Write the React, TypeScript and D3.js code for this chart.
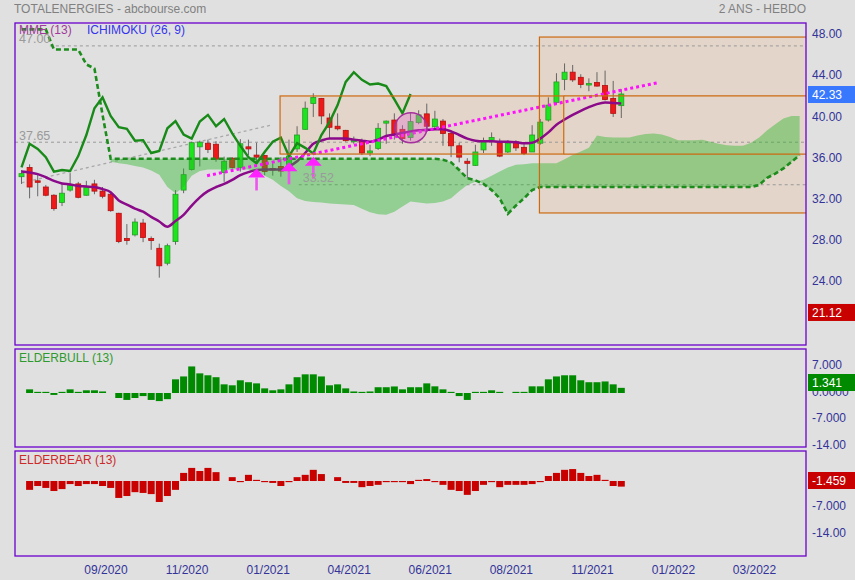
import React from "react";
import * as d3 from "d3";

// ---------- DATA ----------
const opens = [34.3,35.2,33.9,33.3,32.5,31.8,33.0,33.6,32.5,33.6,32.9,32.6,30.75,28.3,28.65,29.8,28.3,27.35,25.9,28.0,33.0,35.0,37.2,37.55,37.45,34.7,36.1,35.2,37.2,36.4,36.35,35.1,35.3,35.3,37.0,38.9,41.4,41.9,40.0,39.2,38.8,37.7,37.8,36.6,37.05,39.5,39.8,38.9,38.1,39.55,40.4,39.15,39.7,38.5,37.3,35.8,35.4,36.9,37.85,37.6,36.7,37.7,37.15,36.7,37.55,39.8,41.5,43.75,44.45,43.95,43.2,43.45,43.15,41.9,41.2];
const highs = [34.95,35.5,34.6,33.5,32.6,33.7,34.65,33.8,33.9,34.0,33.3,32.85,30.8,29.7,30.25,30.2,28.5,27.8,27.8,33.0,35.1,37.7,37.8,37.9,37.75,36.25,36.2,37.95,37.9,37.6,36.4,35.6,36.2,37.9,39.2,41.6,42.4,41.95,40.45,40.45,38.85,38.2,38.0,37.4,39.5,39.75,40.45,39.3,40.5,40.75,41.4,40.7,39.9,38.8,37.6,36.1,37.4,38.1,38.6,38.0,37.85,37.85,37.5,39.3,39.9,42.0,44.35,45.3,45.15,44.25,43.85,44.45,44.6,43.6,42.8];
const lows = [33.6,32.2,32.4,32.4,31.0,31.45,32.85,32.2,32.45,32.6,32.2,30.9,27.85,27.7,28.5,27.95,27.2,24.5,25.7,27.7,32.7,34.9,35.3,36.6,35.75,33.8,35.1,34.8,36.4,35.6,34.45,34.4,34.3,34.0,36.7,38.85,40.1,39.4,38.0,38.8,37.7,37.5,36.4,36.3,36.9,37.5,37.9,37.5,37.8,39.4,38.7,38.85,37.3,36.2,35.7,34.15,35.35,36.6,37.3,36.2,36.6,36.8,36.4,36.7,37.4,39.65,41.35,42.7,43.5,42.9,42.6,43.05,41.7,40.1,40.0];
const closes = [34.6,33.3,33.8,32.5,31.2,32.7,33.5,32.3,33.3,32.9,32.4,31.0,28.0,28.1,29.9,28.4,28.1,25.65,27.6,32.6,34.5,37.6,37.65,36.95,36.0,35.8,35.2,37.5,37.0,36.2,34.8,34.95,34.85,36.3,38.35,40.95,42.0,40.2,39.1,38.95,37.8,37.85,36.6,36.8,39.0,39.7,38.4,38.0,39.65,40.3,39.2,39.9,38.5,37.3,36.2,35.6,36.7,37.7,38.1,36.3,37.55,37.1,36.55,38.35,39.6,41.25,43.5,44.45,43.7,43.25,43.35,43.1,41.8,40.45,42.33];
const mme13 = [34.8,34.7,34.55,34.25,33.9,33.65,33.55,33.4,33.35,33.3,33.1,32.8,32.0,31.6,31.2,30.9,30.4,29.95,29.45,30.0,30.6,31.5,32.3,32.9,33.3,33.6,34.0,34.45,34.75,34.95,35.0,35.0,35.0,35.3,35.8,36.6,37.5,37.8,38.0,38.0,38.0,37.9,37.8,37.7,37.9,38.25,38.4,38.55,38.7,38.8,38.85,38.9,38.9,38.7,38.35,38.0,37.8,37.75,37.75,37.7,37.7,37.65,37.55,37.6,38.0,38.6,39.35,39.85,40.3,40.7,41.05,41.35,41.5,41.45,41.4];
// Elder bull / bear power, from week 1 to week 74
const elderBull = [0.95,0.3,0.3,-0.5,0.3,0.95,0.3,0.7,0.7,0.4,0,-1.3,-1.8,-1.3,-0.8,-1.8,-2.1,-1.6,3.55,4.3,6.9,5.1,4.6,4.1,2.25,2.0,3.3,2.8,2.5,1.2,0.7,0.95,2.25,4.1,4.85,4.85,4.3,2.0,2.25,1.2,0.4,0.3,0.4,1.5,1.5,1.7,0.95,1.5,1.5,2.5,1.73,0.95,0.3,-0.8,-1.8,0.3,0.3,0.7,0.3,0,0.3,0.3,1.73,1.73,3.55,4.3,4.6,4.6,3.3,2.8,2.8,3.0,2.25,1.341];
const elderBear = [-2.3,-1.3,-1.8,-2.6,-2.1,-0.8,-1.3,-0.8,-0.8,-1.3,-1.8,-4.4,-3.9,-2.9,-3.1,-3.4,-5.45,-3.9,-2.3,2.1,3.4,2.6,3.4,2.3,0,1.0,-0.3,1.6,0.3,-0.3,-0.5,-1.3,-0.3,1.0,1.6,2.9,1.8,0,1.0,-0.5,-0.5,-1.6,-1.3,-1.0,-0.3,-0.3,-0.3,-0.8,0.3,0.5,-0.3,-1.0,-2.3,-2.6,-3.6,-2.6,-1.0,-0.3,-1.6,-1.0,-1.0,-1.0,-0.8,-0.3,1.3,2.1,2.9,3.1,2.1,1.3,1.6,0.3,-1.3,-1.459];
// Ichimoku senkou span B (dashed), weeks 0..96
const spanB = [48.6,48.6,48.6,48.6,46.65,46.65,46.65,46.65,45.2,44.8,40.3,
  36.05,36.05,36.05,36.05,36.05,36.05,36.05,36.05,36.05,36.05,36.05,36.05,36.05,36.05,36.05,36.05,36.05,36.05,36.05,36.05,
  36.05,36.05,36.05,36.05,36.05,36.05,36.05,36.05,36.05,36.05,36.05,36.05,36.05,36.05,36.05,36.05,36.05,36.05,36.05,36.05,36.05,
  35.95,35.7,34.95,34.15,33.95,33.6,33.0,32.2,30.7,31.5,32.2,33.0,
  33.3,33.3,33.3,33.3,33.3,33.3,33.3,33.3,33.3,33.3,33.3,33.3,33.3,33.3,33.3,33.3,33.3,33.3,33.3,33.3,33.3,33.3,33.3,33.3,33.3,33.3,33.3,
  33.5,34.2,34.6,35.1,35.75,36.4];
// Ichimoku senkou span A, weeks 11..96
const spanAStart = 11;
const spanA = [35.75,35.6,35.5,35.35,35.2,34.9,34.5,33.3,32.7,33.3,34.4,34.85,35.0,35.0,35.0,35.0,35.0,35.0,34.8,34.4,34.0,33.4,32.9,32.2,31.95,31.85,31.8,31.7,31.65,31.6,31.55,31.2,30.85,30.65,30.6,30.9,31.4,31.9,31.8,31.7,31.75,31.9,32.2,32.9,33.5,33.8,34.0,34.4,34.8,35.2,35.45,35.5,35.6,35.6,35.6,35.6,36.0,36.4,36.75,37.1,38.3,38.15,38.1,38.1,38.1,38.3,38.45,38.5,38.4,38.15,37.85,37.85,37.85,37.9,37.7,37.5,37.35,37.3,37.3,37.6,38.1,38.8,39.4,39.95,40.2,40.2];
const chikouShift = 26;

const priceTicks = [48, 44, 40, 36, 32, 28, 24];
const bullTicks = [7, 0, -7, -14];
const bearTicks = [-7, -14];
const dateTickIdx = [10, 20, 30, 40, 50, 60, 70, 80, 90];
const dateTickLabels = ["09/2020", "11/2020", "01/2021", "04/2021", "06/2021", "08/2021", "11/2021", "01/2022", "03/2022"];

const levelValues = [47.0, 37.65, 33.52];
const levelStartIdx = [3.5, -1, 34.2];
const greyTrendIdx = [0, 31];
const greyTrendVal = [33.7, 39.35];
const pinkTrendIdx = [22.9, 78.65];
const pinkTrendVal = [34.4, 43.45];
const arrowIdx = [29, 33, 36];
const arrowVal = [35.1, 35.7, 36.25];
const box1Idx = [31.9, 66.9];
const box1Val = [42.14, 36.5];
const box2Idx = [63.9, 98];
const box2Val = [47.86, 30.78];
const ellipseIdx = 48.05;
const ellipseVal = 39.05;

const lastPrice = 42.33;
const lowPrice = 21.12;

const FONT = "Arial, 'Liberation Sans', sans-serif";
const AXIS = "#333399";
const BORDER = "#6a00cc";

export default function App() {
  const L = 15, R = 806;
  const mainTop = 23, mainBot = 345;
  const bullTop = 349, bullBot = 447;
  const bearTop = 451, bearBot = 556;

  const x = d3.scaleLinear().domain([0, 74]).range([21.5, 621.3]);
  const y = d3.scaleLinear().domain([48, 24]).range([35.6, 282.8]);
  const yBull = d3.scaleLinear().domain([0, 7]).range([393, 366.05]);
  const yBear = d3.scaleLinear().domain([0, 7]).range([481, 454.05]);

  const idx = d3.range(closes.length);
  const emaLine = d3.line<number>().x((i) => x(i)).y((i) => y(mme13[i])).curve(d3.curveMonotoneX)(idx) || "";
  const bLine = d3.line<number>().x((_, i) => x(i)).y((v) => y(v))(spanB) || "";
  const cloudIdx = d3.range(spanAStart, spanB.length);
  const cloud = d3.area<number>()
    .x((i) => x(i))
    .y0((i) => y(spanB[i]))
    .y1((i) => y(spanA[i - spanAStart]))(cloudIdx) || "";
  const chIdx = d3.range(0, closes.length - chikouShift);
  const chikou = d3.line<number>().x((i) => x(i)).y((i) => y(closes[i + chikouShift]))(chIdx) || "";

  const bw = 5;

  return (
    <svg width={855} height={580} style={{ position: "absolute", left: 0, top: 0, fontFamily: FONT }}>
      <defs>
        <clipPath id="mainClip"><rect x={L} y={mainTop} width={R - L} height={mainBot - mainTop} /></clipPath>
      </defs>
      <rect x={0} y={0} width={855} height={580} fill="#e0e0e0" />
      <text x={14} y={13} fontSize={12} fill="#808080">TOTALENERGIES - abcbourse.com</text>
      <text x={806} y={13} fontSize={12} fill="#808080" textAnchor="end">2 ANS - HEBDO</text>

      <g clipPath="url(#mainClip)">
        <rect x={x(box1Idx[0])} y={y(box1Val[0])} width={x(box1Idx[1]) - x(box1Idx[0])} height={y(box1Val[1]) - y(box1Val[0])} fill="rgba(240,170,110,0.2)" />
        <rect x={x(box2Idx[0])} y={y(box2Val[0])} width={x(box2Idx[1]) - x(box2Idx[0])} height={y(box2Val[1]) - y(box2Val[0])} fill="rgba(240,170,110,0.2)" />
        {levelValues.map((v, k) => (
          <line key={"lv" + k} x1={Math.max(L, x(levelStartIdx[k]))} x2={R} y1={y(v)} y2={y(v)} stroke="#9a9a9a" strokeDasharray="3,3" strokeWidth={1} />
        ))}
        <line x1={x(greyTrendIdx[0])} y1={y(greyTrendVal[0])} x2={x(greyTrendIdx[1])} y2={y(greyTrendVal[1])} stroke="#a8a8a8" strokeWidth={1.3} strokeDasharray="3,3" />
        {idx.map((i) => {
          const up = closes[i] >= opens[i];
          const top = y(Math.max(opens[i], closes[i]));
          const h = Math.max(1.5, Math.abs(y(opens[i]) - y(closes[i])));
          return (
            <g key={"c" + i}>
              <line x1={x(i)} x2={x(i)} y1={y(highs[i])} y2={y(lows[i])} stroke="#666" strokeWidth={1} />
              <rect x={x(i) - bw / 2} y={top} width={bw} height={h} fill={up ? "#1de51d" : "#ee1a1a"} stroke={up ? "#2a9a2a" : "#b01010"} strokeWidth={0.8} />
            </g>
          );
        })}
        <path d={emaLine} fill="none" stroke="#8a0a8a" strokeWidth={2.5} />
        <path d={cloud} fill="rgba(40,180,40,0.42)" stroke="none" />
        <path d={bLine} fill="none" stroke="#1c8c1c" strokeWidth={2.6} strokeDasharray="5,3" />
        <path d={chikou} fill="none" stroke="#178a17" strokeWidth={2.4} />
        <line x1={x(pinkTrendIdx[0])} y1={y(pinkTrendVal[0])} x2={x(pinkTrendIdx[1])} y2={y(pinkTrendVal[1])} stroke="#ff10ff" strokeWidth={3} strokeDasharray="3,3" />
        {arrowIdx.map((ai, k) => {
          const cx = x(ai), ty = y(arrowVal[k]);
          return (
            <g key={"ar" + k}>
              <rect x={cx - 1.3} y={ty + 9} width={2.6} height={13} fill="#ee55ee" />
              <path d={`M${cx},${ty} L${cx + 8.5},${ty + 9} L${cx - 8.5},${ty + 9} Z`} fill="#ff22ff" />
            </g>
          );
        })}
        <ellipse cx={x(ellipseIdx)} cy={y(ellipseVal)} rx={16} ry={15} fill="rgba(225,110,205,0.35)" stroke="#a3309d" strokeWidth={1.5} />
        <rect x={x(box1Idx[0])} y={y(box1Val[0])} width={x(box1Idx[1]) - x(box1Idx[0])} height={y(box1Val[1]) - y(box1Val[0])} fill="none" stroke="#cc6a10" strokeWidth={1.2} />
        <rect x={x(box2Idx[0])} y={y(box2Val[0])} width={x(box2Idx[1]) - x(box2Idx[0])} height={y(box2Val[1]) - y(box2Val[0])} fill="none" stroke="#cc6a10" strokeWidth={1.2} />
        {box1Val.map((v, k) => (
          <line key={"bl" + k} x1={x(box1Idx[1])} x2={R} y1={y(v)} y2={y(v)} stroke="#cc6a10" strokeWidth={1.2} />
        ))}
        <text x={19} y={y(levelValues[0]) - 2.5} fontSize={12.5} fill="#9a9a9a">47.00</text>
        <text x={19} y={y(levelValues[1]) - 2.5} fontSize={12.5} fill="#9a9a9a">37.65</text>
        <text x={x(levelStartIdx[2]) + 4} y={y(levelValues[2]) - 3} fontSize={12.5} fill="#9a9a9a">33.52</text>
      </g>
      <text x={19} y={34} fontSize={12} fill="#a03a9c">MME (13)</text>
      <text x={87} y={34} fontSize={12} fill="#3434ee">ICHIMOKU (26, 9)</text>
      <rect x={L} y={mainTop} width={R - L} height={mainBot - mainTop} fill="none" stroke={BORDER} strokeWidth={1.3} />
      {priceTicks.map((v) => (
        <text key={"pt" + v} x={812} y={y(v) + 2.5} fontSize={12} fill={AXIS}>{v.toFixed(2)}</text>
      ))}
      <rect x={808} y={y(lastPrice) - 8} width={47} height={17} fill="#3878ff" />
      <text x={812} y={y(lastPrice) + 5} fontSize={12} fill="#fff">{lastPrice.toFixed(2)}</text>
      <rect x={808} y={y(lowPrice) - 8.5} width={47} height={17} fill="#c80000" />
      <text x={812} y={y(lowPrice) + 4.5} fontSize={12} fill="#fff">{lowPrice.toFixed(2)}</text>

      <rect x={L} y={bullTop} width={R - L} height={bullBot - bullTop} fill="none" stroke={BORDER} strokeWidth={1.3} />
      <text x={19} y={362} fontSize={12} fill="#2e9a2e">ELDERBULL (13)</text>
      {elderBull.map((v, k) => {
        const i = k + 1;
        if (v === 0) return null;
        return <rect key={"eb" + i} x={x(i) - 3.5} y={Math.min(yBull(0), yBull(v))} width={7} height={Math.abs(yBull(v) - yBull(0))} fill="#008a00" />;
      })}
      {bullTicks.map((v) => (
        <text key={"bt" + v} x={812} y={yBull(v) + 2.5} fontSize={12} fill={AXIS}>{v === 0 ? "0.0000" : v === -14 ? "-14.00" : v.toFixed(3)}</text>
      ))}
      <rect x={808} y={374} width={47} height={17} fill="#008a00" />
      <text x={812} y={387} fontSize={12} fill="#fff">{elderBull[elderBull.length - 1].toFixed(3)}</text>

      <rect x={L} y={bearTop} width={R - L} height={bearBot - bearTop} fill="none" stroke={BORDER} strokeWidth={1.3} />
      <text x={19} y={464} fontSize={12} fill="#cc2a2a">ELDERBEAR (13)</text>
      {elderBear.map((v, k) => {
        const i = k + 1;
        if (v === 0) return null;
        return <rect key={"er" + i} x={x(i) - 3.5} y={Math.min(yBear(0), yBear(v))} width={7} height={Math.abs(yBear(v) - yBear(0))} fill="#c80000" />;
      })}
      {bearTicks.map((v) => (
        <text key={"rt" + v} x={812} y={yBear(v) + 2.5} fontSize={12} fill={AXIS}>{v === -14 ? "-14.00" : v.toFixed(3)}</text>
      ))}
      <rect x={808} y={472} width={47} height={17} fill="#c80000" />
      <text x={812} y={485} fontSize={12} fill="#fff">{elderBear[elderBear.length - 1].toFixed(3)}</text>

      {dateTickIdx.map((ti, k) => (
        <text key={"dt" + k} x={x(ti) + 3.5} y={574} fontSize={12} fill={AXIS} textAnchor="middle">{dateTickLabels[k]}</text>
      ))}
    </svg>
  );
}
